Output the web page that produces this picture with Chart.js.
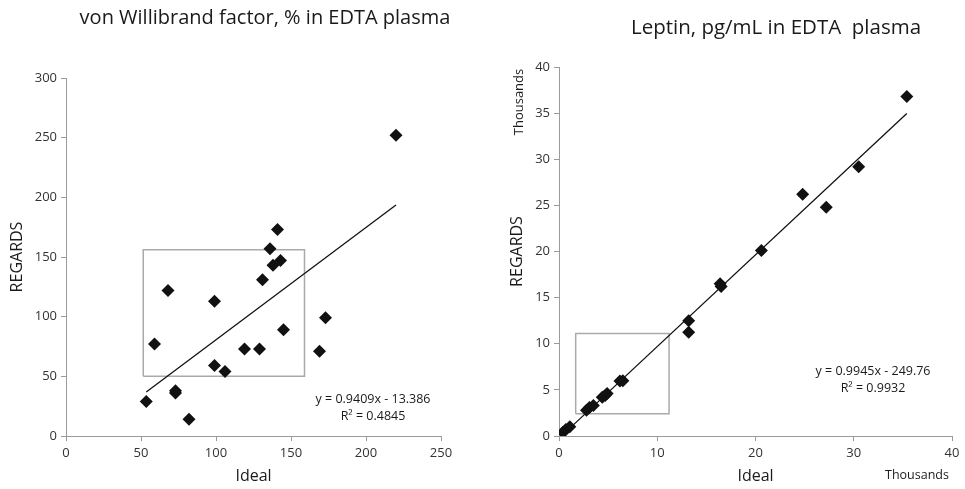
<!DOCTYPE html>
<html>
<head>
<meta charset="utf-8">
<script src="https://cdn.jsdelivr.net/npm/chart.js@4"></script>
<style>
  html, body { margin: 0; padding: 0; background: #fff; }
  #wrap { position: relative; width: 965px; height: 489px; }
  .box { position: absolute; top: 0; height: 489px; }
</style>
</head>
<body>
<div id="wrap">
  <div class="box" style="left:0;width:482px"><canvas id="vwfChart"></canvas></div>
  <div class="box" style="left:482px;width:483px"><canvas id="leptinChart"></canvas></div>
</div>
<script>
// von Willibrand factor, % (Ideal vs REGARDS)
const vwfIdeal   = [53.5, 59, 68, 73, 73, 82, 99, 99, 106, 119, 129, 131, 136, 138, 141, 143, 145, 169, 173, 220];
const vwfRegards = [29, 77, 122, 38, 36, 14, 113, 59, 54, 73, 73, 131, 157, 143, 173, 147, 89, 71, 99, 252];
const vwfSlope = 0.9409, vwfIntercept = -13.386;
const vwfBoxX = [51.5, 159, 159, 51.5, 51.5];
const vwfBoxY = [50, 50, 156, 156, 50];

// Leptin, pg/mL in thousands
const leptinIdeal   = [0.4, 0.7, 1.1, 2.8, 3.1, 3.5, 4.4, 4.7, 4.9, 6.2, 6.5, 13.2, 13.2, 16.4, 16.5, 20.6, 24.8, 27.2, 30.5, 35.4];
const leptinRegards = [0.4, 0.7, 1.0, 2.8, 3.1, 3.3, 4.2, 4.4, 4.6, 5.95, 6.0, 12.5, 11.25, 16.5, 16.2, 20.1, 26.2, 24.8, 29.2, 36.8];
const leptinSlope = 0.9945, leptinIntercept = -0.24976; // in thousands
const leptinBoxX = [1.7, 11.2, 11.2, 1.7, 1.7];
const leptinBoxY = [2.4, 2.4, 11.1, 11.1, 2.4];

const FONT = "'Open Sans', 'Noto Sans', sans-serif";
const AXIS_GREY = '#9a9a9a';
const TEXT = '#1a1a1a';

function pts(xs, ys) { return xs.map((x, i) => ({ x: x, y: ys[i] })); }
function trend(xs, m, b) {
    const lo = Math.min(...xs), hi = Math.max(...xs);
    return [{ x: lo, y: m * lo + b }, { x: hi, y: m * hi + b }];
}

// extra texts: title, equation, "Thousands"
const textPlugin = {
    id: 'texts',
    afterDraw(chart, args, opts) {
        const ctx = chart.ctx;
        ctx.save();
        ctx.fillStyle = TEXT;
        ctx.textBaseline = 'middle';
        opts.items.forEach(t => {
            ctx.save();
            ctx.font = t.font;
            ctx.textAlign = 'center';
            ctx.translate(t.x, t.y);
            if (t.rot) ctx.rotate(t.rot);
            ctx.fillText(t.text, 0, 0);
            ctx.restore();
        });
        ctx.restore();
    }
};

function makeChart(id, cfg) {
    const tickFont = { family: FONT, size: 13 };
    return new Chart(document.getElementById(id).getContext('2d'), {
        type: 'scatter',
        data: {
            datasets: [
                {
                    data: cfg.points,
                    pointStyle: 'rectRot',
                    pointRadius: 6.5,
                    backgroundColor: '#111',
                    borderColor: '#111',
                    borderWidth: 0
                },
                {
                    data: cfg.trend,
                    showLine: true,
                    borderColor: '#111',
                    borderWidth: 1.3,
                    pointRadius: 0
                },
                {
                    data: cfg.box,
                    showLine: true,
                    borderColor: '#aaa',
                    borderWidth: 1.5,
                    pointRadius: 0
                }
            ]
        },
        options: {
            responsive: false,
            animation: false,
            layout: { padding: { top: cfg.top, right: cfg.right, left: 0, bottom: 0 } },
            plugins: {
                legend: { display: false },
                tooltip: { enabled: false },
                texts: { items: cfg.texts }
            },
            scales: {
                x: {
                    type: 'linear',
                    min: 0, max: cfg.xMax,
                    ticks: { stepSize: cfg.xStep, color: '#333', font: tickFont, padding: 4 },
                    grid: { drawOnChartArea: false, drawTicks: true, tickLength: 5, color: AXIS_GREY },
                    border: { color: AXIS_GREY, width: 1 },
                    title: { display: true, text: 'Ideal', color: TEXT, font: { family: FONT, size: 16 }, padding: { top: 0, bottom: 3 } },
                    afterFit: s => { s.height = 53; }
                },
                y: {
                    type: 'linear',
                    min: 0, max: cfg.yMax,
                    ticks: { stepSize: cfg.yStep, color: '#333', font: tickFont, padding: 4 },
                    grid: { drawOnChartArea: false, drawTicks: true, tickLength: 5, color: AXIS_GREY },
                    border: { color: AXIS_GREY, width: 1 },
                    title: { display: true, text: 'REGARDS', color: TEXT, font: { family: FONT, size: 16 }, padding: { top: cfg.yTitlePad, bottom: 0 } },
                    afterFit: s => { s.width = cfg.yWidth; }
                }
            }
        },
        plugins: [textPlugin]
    });
}

const c1 = document.getElementById('vwfChart');
c1.width = 482; c1.height = 489;
const c2 = document.getElementById('leptinChart');
c2.width = 483; c2.height = 489;

makeChart('vwfChart', {
    points: pts(vwfIdeal, vwfRegards),
    trend: trend(vwfIdeal, vwfSlope, vwfIntercept),
    box: pts(vwfBoxX, vwfBoxY),
    xMax: 250, xStep: 50, yMax: 300, yStep: 50,
    top: 78, right: 41, yWidth: 66, yTitlePad: 8,
    texts: [
        { text: 'von Willibrand factor, % in EDTA plasma', x: 265, y: 18, font: '20px ' + FONT },
        { text: 'y = 0.9409x - 13.386', x: 373, y: 399, font: '12.5px ' + FONT },
        { text: 'R\u00b2 = 0.4845', x: 373, y: 416, font: '12.5px ' + FONT }
    ]
});

makeChart('leptinChart', {
    points: pts(leptinIdeal, leptinRegards),
    trend: trend(leptinIdeal, leptinSlope, leptinIntercept),
    box: pts(leptinBoxX, leptinBoxY),
    xMax: 40, xStep: 10, yMax: 40, yStep: 5,
    top: 67, right: 13, yWidth: 77, yTitlePad: 26,
    texts: [
        { text: 'Leptin, pg/mL in EDTA  plasma', x: 294, y: 28, font: '20.5px ' + FONT },
        { text: 'y = 0.9945x - 249.76', x: 391, y: 371, font: '12.5px ' + FONT },
        { text: 'R\u00b2 = 0.9932', x: 391, y: 388, font: '12.5px ' + FONT },
        { text: 'Thousands', x: 435, y: 475, font: '12.5px ' + FONT },
        { text: 'Thousands', x: 37, y: 102, font: '13px ' + FONT, rot: -Math.PI / 2 }
    ]
});
</script>
</body>
</html>
